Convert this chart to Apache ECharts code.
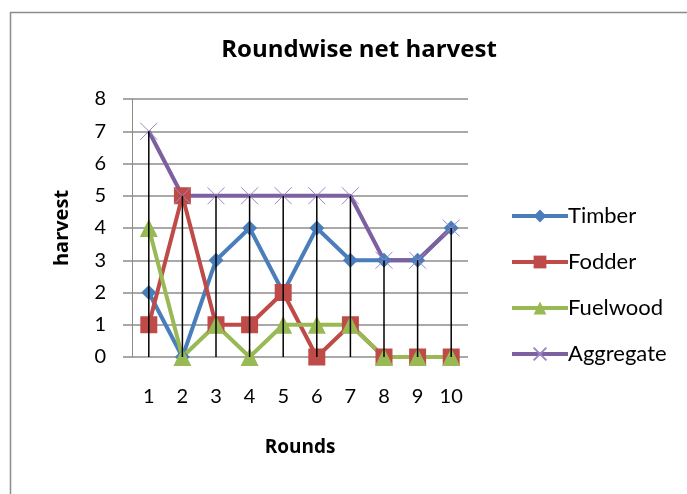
<!DOCTYPE html>
<html>
<head>
<meta charset="utf-8">
<script src="https://cdn.jsdelivr.net/npm/echarts@6/dist/echarts.min.js"></script>
<style>
  html, body { margin: 0; padding: 0; background: #fff; }
  #chart { width: 687px; height: 494px; }
</style>
</head>
<body>
<div id="chart"></div>
<script>
// values
const rounds = ['1', '2', '3', '4', '5', '6', '7', '8', '9', '10']
const timber = [2, 0, 3, 4, 2, 4, 3, 3, 3, 4]
const fodder = [1, 5, 1, 1, 2, 0, 1, 0, 0, 0]
const fuelwood = [4, 0, 1, 0, 1, 1, 1, 0, 0, 0]
const aggregate = [7, 5, 5, 5, 5, 5, 5, 3, 3, 4]
const yTicks = [0, 1, 2, 3, 4, 5, 6, 7, 8]

const font = 'Lato, "Open Sans", sans-serif'
const boldFont = '"Open Sans", Lato, sans-serif'
const crossPath = 'path://M0,0L10,10M10,0L0,10'

const chart = echarts.init(document.getElementById('chart'), null, { renderer: 'canvas' })

function lineSeries(name, data, color, symbol, size) {
  return {
    name,
    type: 'line',
    data,
    symbol,
    symbolSize: size,
    showAllSymbol: true,
    lineStyle: { color, width: 4 },
    itemStyle: { color },
    z: 3
  }
}

chart.setOption({
  animation: false,
  textStyle: { fontFamily: font },
  graphic: [{
    type: 'rect',
    shape: { x: 10.5, y: 12.5, width: 700, height: 500 },
    style: { fill: 'none', stroke: '#8c8c8c', lineWidth: 1.5 },
    silent: true
  }],
  title: {
    text: 'Roundwise net harvest',
    left: 354,
    textAlign: 'center',
    top: 33,
    textStyle: { fontFamily: boldFont, fontSize: 24, fontWeight: 'bold', color: '#000' }
  },
  legend: {
    data: ['Timber', 'Fodder', 'Fuelwood', 'Aggregate'],
    orient: 'vertical',
    left: 505,
    top: 200,
    itemWidth: 56,
    itemHeight: 16,
    itemGap: 24,
    lineStyle: { width: 4 },
    textStyle: { fontFamily: font, fontSize: 22, color: '#000', padding: [0, 0, 0, -5] }
  },
  grid: { left: 132, right: 219, top: 99, bottom: 137 },
  xAxis: {
    type: 'category',
    data: rounds,
    boundaryGap: true,
    name: 'Rounds',
    nameLocation: 'middle',
    nameGap: 81,
    nameTextStyle: { fontFamily: boldFont, fontSize: 19, fontWeight: 'bold', color: '#000' },
    axisLine: { show: false },
    axisTick: { show: false },
    axisLabel: { margin: 30, fontFamily: font, fontSize: 20, color: '#000' }
  },
  yAxis: {
    type: 'value',
    min: yTicks[0],
    max: yTicks[yTicks.length - 1],
    interval: 1,
    name: 'harvest',
    nameLocation: 'middle',
    nameGap: 60,
    nameTextStyle: { fontFamily: boldFont, fontSize: 20, fontWeight: 'bold', color: '#000' },
    axisLine: { show: true, lineStyle: { color: '#8c8c8c', width: 1 } },
    axisTick: { show: true, length: 9, lineStyle: { color: '#8c8c8c', width: 1.5 } },
    axisLabel: { margin: 26, fontFamily: font, fontSize: 20, color: '#000' },
    splitLine: { lineStyle: { color: '#8c8c8c', width: 1.5 } }
  },
  series: [
    lineSeries('Timber', timber, '#4A7EBB', 'diamond', 15),
    lineSeries('Fodder', fodder, '#BE4B48', 'rect', 17),
    lineSeries('Fuelwood', fuelwood, '#98B954', 'triangle', 18),
    {
      name: 'Aggregate',
      type: 'line',
      data: aggregate,
      symbol: crossPath,
      symbolSize: 17,
      showAllSymbol: true,
      lineStyle: { color: '#7D60A0', width: 4 },
      itemStyle: { color: '#7D60A0', borderColor: '#9d86c4', borderWidth: 1 },
      z: 3
    },
    {
      // black drop lines from the top value down to zero
      name: 'drop',
      type: 'bar',
      data: aggregate,
      barWidth: 1.5,
      itemStyle: { color: '#000' },
      z: 5
    }
  ]
})
</script>
</body>
</html>
